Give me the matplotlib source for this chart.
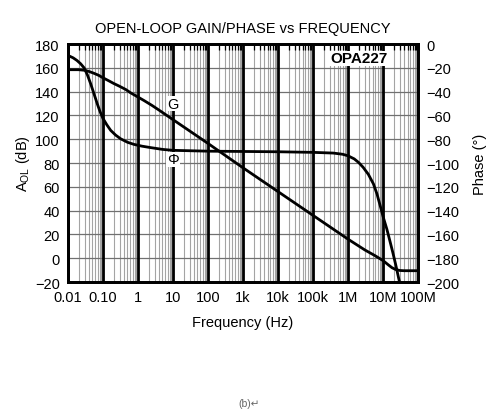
import numpy as np
import matplotlib
matplotlib.use("Agg")
import matplotlib.pyplot as plt
from matplotlib.ticker import FixedLocator, NullFormatter

plt.rcParams["font.family"] = ["Liberation Sans", "DejaVu Sans"]

# ---- data ----
gain_freq = [0.01, 0.02, 0.03, 0.04, 0.055, 0.075, 0.1, 0.15, 0.2, 0.3, 0.45, 0.62, 1,
             1.5, 2.5, 4, 10, 100, 1e3, 1e4, 1e5, 1e6, 3e6, 6e6, 1e7, 1.4e7, 1.8e7,
             2.3e7, 3e7, 4e7, 1e8]
gain_db = [158.5, 158.5, 158, 157, 155.5, 153.8, 151.7, 149, 147, 144.5, 141.8, 139, 135.5,
           132.5, 128.5, 124.5, 116.5, 96.5, 76, 56, 36, 16, 7, 2, -2, -5.5, -8,
           -9.5, -10.3, -10.5, -10.5]

phase_freq = [0.01, 0.014, 0.018, 0.023, 0.029, 0.036, 0.0446, 0.055, 0.0687, 0.083, 0.1,
              0.13, 0.166, 0.23, 0.32, 0.5, 0.77, 1.3, 2.3, 5, 10, 100, 1e4, 1e5, 3.8e5,
              7e5, 1e6, 1.5e6, 2e6, 2.7e6, 3.8e6, 5.3e6, 6.7e6, 8.2e6, 1e7, 1.28e7,
              1.55e7, 1.89e7, 2.3e7, 2.76e7, 2.95e7]
phase_deg = [-9.5, -11.5, -13.7, -16.5, -20, -26, -33.4, -41.5, -50.2, -57, -62.5,
             -68, -72.5, -76.5, -79.6, -82.5, -84.3, -85.8, -87, -88.5, -89.3, -90, -90.5,
             -91, -91.6, -92.6, -93.9, -96.5, -99.5, -103.6, -109.5, -117.5, -126, -135.5,
             -145, -155.5, -165, -175, -185.6, -196.3, -200]

decades = [0.01, 0.1, 1, 10, 100, 1e3, 1e4, 1e5, 1e6, 1e7, 1e8]
decade_labels = ["0.01", "0.10", "1", "10", "100", "1k", "10k", "100k", "1M", "10M", "100M"]
minors = [m * d for d in decades[:-1] for m in range(2, 10)]

fig = plt.figure(figsize=(4.89, 4.14), dpi=100)
ax = fig.add_axes([0.139, 0.3164, 0.716, 0.5746])
ax.set_xscale("log")
ax.set_xlim(0.01, 1e8)
ax.set_ylim(-20, 180)

# grid
for f in minors:
    ax.axvline(f, color="#a4a4a4", lw=0.8, zorder=1)
for f in decades:
    ax.axvline(f, color="black", lw=2.0, zorder=2)
for y in range(0, 180, 20):
    ax.axhline(y, color="#707070", lw=0.9, zorder=1)

ax.plot(gain_freq, gain_db, color="black", lw=2.0, zorder=4, solid_joinstyle="round")

ax.xaxis.set_major_locator(FixedLocator(decades))
ax.set_xticklabels(decade_labels)
ax.xaxis.set_minor_locator(FixedLocator(minors))
ax.xaxis.set_minor_formatter(NullFormatter())
ax.set_yticks(range(-20, 181, 20))
ax.tick_params(axis="both", which="major", length=0, labelsize=10.5, pad=6)
ax.tick_params(axis="x", which="minor", top=True, bottom=False, direction="in",
               length=4, width=0.9, color="black")
for s in ax.spines.values():
    s.set_linewidth(2.0)
    s.set_zorder(5)

ax2 = ax.twinx()
ax2.set_ylim(-200, 0)
ax2.set_yticks(range(-200, 1, 20))
ax2.tick_params(axis="y", length=0, labelsize=10.5, pad=6)
ax2.plot(phase_freq, phase_deg, color="black", lw=2.0, zorder=4, solid_joinstyle="round")
for s in ax2.spines.values():
    s.set_linewidth(2.0)

ax.text(10, 130, "G", ha="center", va="center", fontsize=10.5, zorder=6,
        bbox=dict(facecolor="white", edgecolor="none", pad=0.5))
ax.text(10, 83, "Φ", ha="center", va="center", fontsize=10.5, zorder=6,
        bbox=dict(facecolor="white", edgecolor="none", pad=0.5))
ax.text(0.83, 0.94, "OPA227", transform=ax.transAxes, ha="center", va="center",
        fontsize=11, fontweight="bold", zorder=6,
        bbox=dict(facecolor="white", edgecolor="none", pad=0.5))

ax.set_title("OPEN-LOOP GAIN/PHASE vs FREQUENCY", fontsize=10.5, pad=9)
ax.set_xlabel("Frequency (Hz)", fontsize=10.5, labelpad=8)
ax.set_ylabel(r"A$_{\mathregular{OL}}$ (dB)", fontsize=10.5, labelpad=2)
ax2.set_ylabel("Phase (°)", fontsize=10.5, labelpad=10)

fig.text(0.51, 0.025, "(b)\u21b5", ha="center", va="center", fontsize=7.5, color="#666666")

fig.savefig("out.png", dpi=100)
